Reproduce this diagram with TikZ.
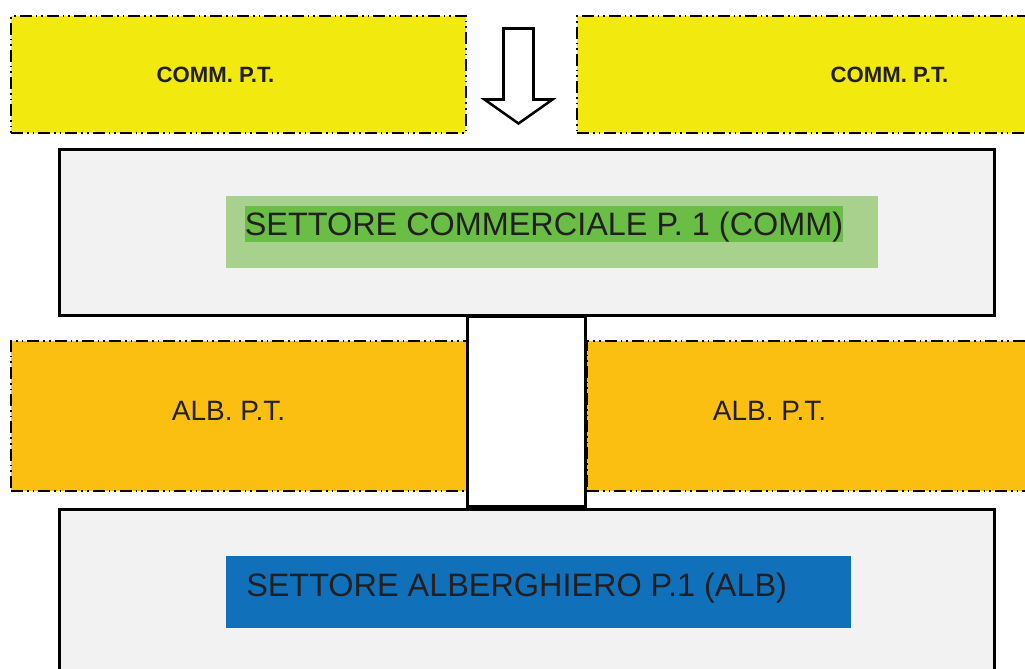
\documentclass[tikz,border=0pt]{standalone}
\usepackage{fontspec}
\setmainfont{Liberation Sans}
\usetikzlibrary{positioning}
\definecolor{yelPT}{HTML}{F2E90E}
\definecolor{orgPT}{HTML}{FBBF12}
\definecolor{grayS}{HTML}{F2F2F2}
\definecolor{greenL}{HTML}{A9D18E}
\definecolor{greenD}{HTML}{6ABD45}
\definecolor{blueA}{HTML}{1070BA}
\definecolor{ink}{HTML}{231F20}
\tikzset{
  zone/.style   = {draw, line width=1.5pt, inner sep=0pt,
                   dash pattern=on 9pt off 3pt on 1.2pt off 3pt on 1.2pt off 3pt},
  comm/.style   = {zone, fill=yelPT, minimum height=87.75pt},
  alb/.style    = {zone, fill=orgPT, minimum height=112.5pt},
  sector/.style = {draw, line width=2.25pt, fill=grayS, inner sep=0pt,
                   minimum width=701.25pt},
  band/.style   = {inner sep=0pt, minimum height=54pt},
  tag/.style    = {text=ink, inner sep=0pt, text depth=0pt},
  title/.style  = {tag, font=\fontsize{24.3}{28}\selectfont, text height=17.4pt},
  hollow/.style = {draw, line width=1.9pt, fill=white, line join=miter}
}

\begin{document}
\begin{tikzpicture}[x=0.75pt,y=-0.75pt]
  \clip (0,0) rectangle (1025,668);
  % piano terra
  \node[comm, minimum width=341.25pt] (commL) at (238.5,74.5) {};
  \node[comm, minimum width=339.75pt] (commR) at (803.5,74.5) {};
  \node[tag, font=\bfseries\fontsize{16.6}{19}\selectfont, text height=11.9pt]
    (commLt) at (215.5,75) {COMM. P.T.};
  \node[tag, font=\bfseries\fontsize{16.6}{19}\selectfont, text height=11.9pt]
    (commRt) at (889.5,75) {COMM. P.T.};
  \draw[hollow] (503.5,28.5) -- (533.5,28.5) -- (533.5,99.5) -- (552.5,99.5)
    -- (518.5,123.5) -- (484.5,99.5) -- (503.5,99.5) -- cycle;
  % piano 1 commerciale
  \node[sector, minimum height=124.5pt] (comm1) at (526.5,232) {};
  \node[band, fill=greenL, minimum width=489pt] (commBand) at (552,232) {};
  \node[title, fill=greenD, minimum height=27pt]
    (commTitle) at (544,224) {SETTORE COMMERCIALE P. 1 (COMM)};
  % albergo piano terra
  \node[alb, minimum width=342pt] (albL) at (239,416) {};
  \node[alb, minimum width=332.25pt] (albR) at (808.5,416) {};
  \node[tag, font=\fontsize{21}{25}\selectfont, text height=15pt]
    (albLt) at (228.5,410) {ALB. P.T.};
  \node[tag, font=\fontsize{21}{25}\selectfont, text height=15pt]
    (albRt) at (769.5,410) {ALB. P.T.};
  \node[draw, line width=2.25pt, fill=white, minimum width=88.5pt,
    minimum height=142.5pt, inner sep=0pt] (core) at (526.5,411) {};
  % piano 1 albergo
  \node[sector, minimum height=157.9pt] (alb1) at (526.5,614.75) {};
  \node[band, fill=blueA, minimum width=468.75pt] (albBand) at (538.5,592) {};
  \node[title, anchor=west] (albTitle) at (246,585) {SETTORE ALBERGHIERO P.1 (ALB)};
\end{tikzpicture}
\end{document}
